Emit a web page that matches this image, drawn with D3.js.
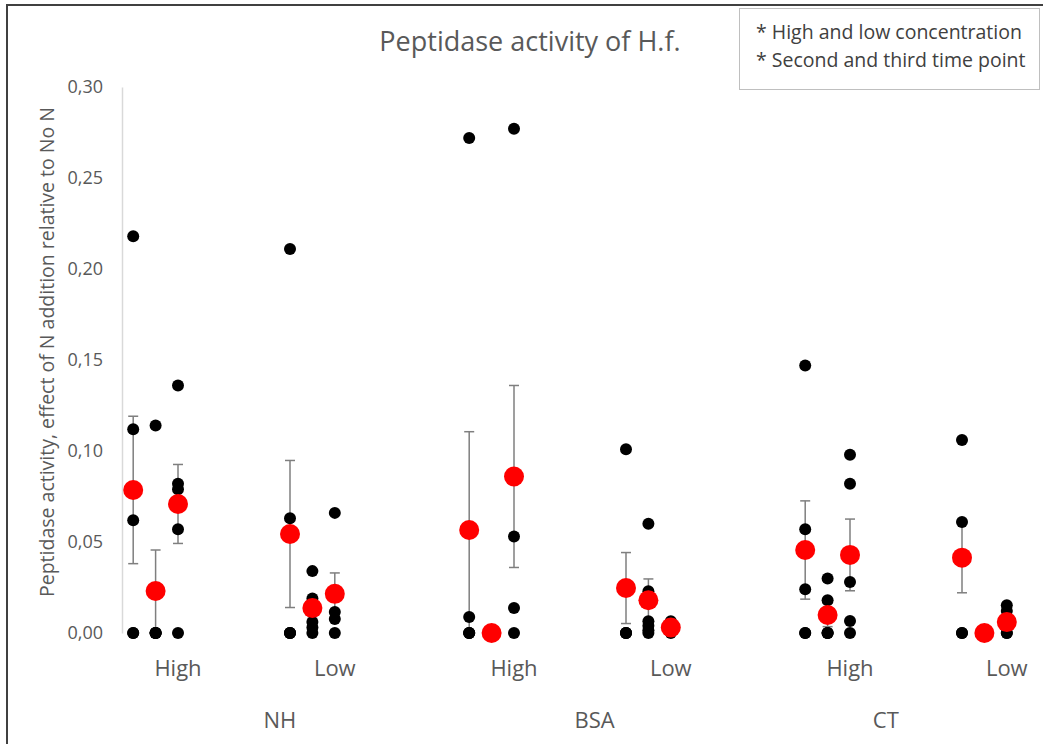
<!DOCTYPE html>
<html>
<head>
<meta charset="utf-8">
<script src="https://cdn.jsdelivr.net/npm/d3@7"></script>
<style>
  body { margin: 0; background: #fff; }
  text { font-family: "Open Sans", sans-serif; }
</style>
</head>
<body>
<div id="chart"></div>
<script>
// categories
var groups = ["NH", "BSA", "CT"];
var levels = ["High", "Low"];
var yTicks = [0, 0.05, 0.10, 0.15, 0.20, 0.25, 0.30];

// single observations, [level][column][points]
var pointsNH = [
  [[0.218, 0.112, 0.062, 0, 0], [0.114, 0, 0, 0, 0], [0.136, 0.082, 0.079, 0.057, 0]],
  [[0.211, 0.063, 0, 0, 0], [0.034, 0.019, 0.006, 0.003, 0], [0.066, 0.0115, 0.0077, 0]]
];
var pointsBSA = [
  [[0.272, 0.0088, 0, 0, 0], [0, 0, 0], [0.277, 0.053, 0.0137, 0]],
  [[0.101, 0, 0, 0], [0.060, 0.023, 0.0065, 0.004, 0.0015, 0], [0.0065, 0.003, 0]]
];
var pointsCT = [
  [[0.147, 0.057, 0.024, 0, 0], [0.030, 0.018, 0, 0, 0], [0.098, 0.082, 0.028, 0.0066, 0]],
  [[0.106, 0.061, 0, 0], [0, 0, 0], [0.0153, 0.0121, 0, 0]]
];

// means (red) and error bar half widths
var meansNH  = [[0.0786, 0.0231, 0.0709], [0.0544, 0.0137, 0.0215]];
var meansBSA = [[0.0566, 0, 0.086], [0.0247, 0.018, 0.003]];
var meansCT  = [[0.0456, 0.0099, 0.0429], [0.0414, 0, 0.006]];
var errNH  = [[0.0405, 0.0225, 0.0217], [0.0404, 0.0057, 0.0115]];
var errBSA = [[0.054, 0, 0.05], [0.0195, 0.0117, 0]];
var errCT  = [[0.027, 0.0064, 0.0197], [0.0193, 0, 0]];

var allPoints = [pointsNH, pointsBSA, pointsCT];
var allMeans = [meansNH, meansBSA, meansCT];
var allErr = [errNH, errBSA, errCT];

var width = 1043, height = 744;

var svg = d3.select("#chart").append("svg")
  .attr("width", width)
  .attr("height", height);

// frame
svg.append("path")
  .attr("d", "M7,744 L7,5 L1043,5")
  .attr("fill", "none")
  .attr("stroke", "#404040")
  .attr("stroke-width", 2);

// slot position on a numeric x axis: group * 15 + level * 7 + column
function slot(g, l, c) { return g * 15 + l * 7 + c + 0.5; }

var x = d3.scaleLinear().domain([0, 40]).range([122, 1018]);
var y = d3.scaleLinear().domain([0, 0.30]).range([633, 87]);

// y axis
var yAxis = svg.append("g")
  .attr("transform", "translate(122,0)")
  .call(d3.axisLeft(y).tickValues(yTicks).tickSize(0).tickPadding(19)
    .tickFormat(function(d) { return d3.format(".2f")(d).replace(".", ","); }));
yAxis.select(".domain").attr("stroke", "#d9d9d9").attr("stroke-width", 1.5);
yAxis.selectAll("text")
  .attr("fill", "#595959")
  .style("font-size", "18px")
  .style("font-family", "'Open Sans', sans-serif");

// flatten data
var cols = [], dots = [];
allPoints.forEach(function(gp, g) {
  gp.forEach(function(lp, l) {
    lp.forEach(function(vals, c) {
      cols.push({ u: slot(g, l, c), mean: allMeans[g][l][c], err: allErr[g][l][c] });
      vals.forEach(function(v) { dots.push({ u: slot(g, l, c), v: v }); });
    });
  });
});

// error bars
var eb = svg.append("g").selectAll("g")
  .data(cols.filter(function(d) { return d.err > 0; }))
  .enter().append("g")
  .attr("stroke", "#7f7f7f")
  .attr("stroke-width", 1.5);
eb.append("line")
  .attr("x1", function(d) { return x(d.u); })
  .attr("x2", function(d) { return x(d.u); })
  .attr("y1", function(d) { return y(d.mean + d.err); })
  .attr("y2", function(d) { return y(Math.max(0, d.mean - d.err)); });
eb.append("line")
  .attr("x1", function(d) { return x(d.u) - 5; })
  .attr("x2", function(d) { return x(d.u) + 5; })
  .attr("y1", function(d) { return y(d.mean + d.err); })
  .attr("y2", function(d) { return y(d.mean + d.err); });
eb.filter(function(d) { return d.mean - d.err > 0.003; }).append("line")
  .attr("x1", function(d) { return x(d.u) - 5; })
  .attr("x2", function(d) { return x(d.u) + 5; })
  .attr("y1", function(d) { return y(d.mean - d.err); })
  .attr("y2", function(d) { return y(d.mean - d.err); });

// black observations
svg.append("g").selectAll("circle")
  .data(dots)
  .enter().append("circle")
  .attr("cx", function(d) { return x(d.u); })
  .attr("cy", function(d) { return y(d.v); })
  .attr("r", 6)
  .attr("fill", "#000");

// red means
svg.append("g").selectAll("circle")
  .data(cols)
  .enter().append("circle")
  .attr("cx", function(d) { return x(d.u); })
  .attr("cy", function(d) { return y(d.mean); })
  .attr("r", 10)
  .attr("fill", "#ff0000");

// level labels
var levelLabels = [];
groups.forEach(function(gName, g) {
  levels.forEach(function(lName, l) { levelLabels.push({ u: slot(g, l, 2), t: lName }); });
});
svg.append("g").selectAll("text")
  .data(levelLabels)
  .enter().append("text")
  .attr("x", function(d) { return x(d.u); })
  .attr("y", 676)
  .attr("text-anchor", "middle")
  .attr("fill", "#595959")
  .style("font-size", "22px")
  .text(function(d) { return d.t; });

// group labels
var groupU = [7.05, 21.1, 34.1];
svg.append("g").selectAll("text")
  .data(groups)
  .enter().append("text")
  .attr("x", function(d, i) { return x(groupU[i]); })
  .attr("y", 728)
  .attr("text-anchor", "middle")
  .attr("fill", "#595959")
  .style("font-size", "22px")
  .text(function(d) { return d; });

// title
svg.append("text")
  .attr("x", 530)
  .attr("y", 51)
  .attr("text-anchor", "middle")
  .attr("fill", "#595959")
  .style("font-size", "27px")
  .text("Peptidase activity of H.f.");

// y axis title
svg.append("text")
  .attr("transform", "translate(54,352) rotate(-90)")
  .attr("text-anchor", "middle")
  .attr("fill", "#595959")
  .style("font-size", "19.5px")
  .text("Peptidase activity, effect of N addition relative to No N");

// note box
svg.append("rect")
  .attr("x", 739.5).attr("y", 8.5)
  .attr("width", 300).attr("height", 81)
  .attr("fill", "#fff")
  .attr("stroke", "#bfbfbf");
var notes = ["* High and low concentration", "* Second and third time point"];
svg.append("g").selectAll("text")
  .data(notes)
  .enter().append("text")
  .attr("x", 756)
  .attr("y", function(d, i) { return 39 + i * 28; })
  .attr("fill", "#404040")
  .style("font-size", "19.5px")
  .text(function(d) { return d; });
</script>
</body>
</html>
